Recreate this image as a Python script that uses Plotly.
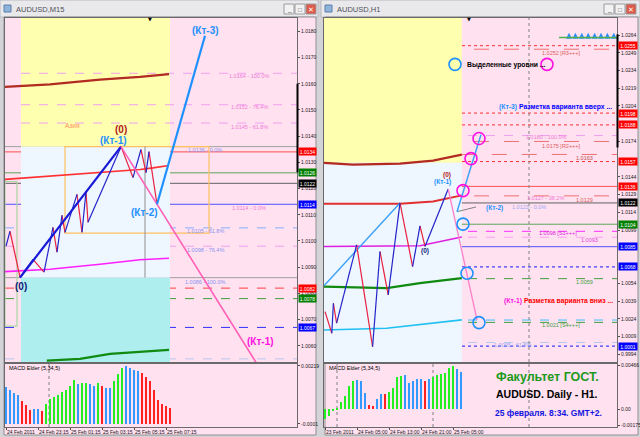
import plotly.graph_objects as go

W, H = 640, 437
FONT = "Liberation Sans, Arial, sans-serif"


def fx(p):
    return p / W


def fy(p):
    return 1 - p / H


# ======================= DATA : left window AUDUSD,M15 =======================
m15_title = "AUDUSD,M15"
m15_price_ticks = [1.0060, 1.0070, 1.0080, 1.0090, 1.0100, 1.0110, 1.0120,
                   1.0130, 1.0140, 1.0150, 1.0160, 1.0170, 1.0180]
m15_time_ticks = [0, 8, 16, 24, 32, 40]
m15_time_labels = ["24 Feb 2011", "24 Feb 23:15", "25 Feb 01:15",
                   "25 Feb 03:15", "25 Feb 05:15", "25 Feb 07:15"]
m15_price_range = [1.00538, 1.01851]
m15_bar_range = [-0.25, 72.75]
m15_zone_start, m15_zone_end = 3.75, 41.0
m15_zone_levels = [1.0136, 1.0086]
m15_day_sep = [10.75]

m15_zz_x = [0, 1, 3.5, 6.75, 9.5, 11.75, 12.75, 14, 14.75, 17.75, 19, 20, 20.5,
            28.75, 31.75, 33.75, 35, 35.75, 37.75]
m15_zz_y = [1.00980, 1.01037, 1.00862, 1.00930, 1.00881, 1.01052, 1.00957, 1.01098,
            1.01033, 1.01178, 1.01033, 1.01189, 1.01071, 1.01360, 1.01242, 1.01349,
            1.01261, 1.01341, 1.01140]
m15_trend_x = [3.5, 28.75]
m15_trend_y = [1.0086, 1.0136]
m15_kt1_x = [28.75, 64.0]
m15_kt1_y = [1.0136, 1.0050]
m15_kt3_x = [37.75, 49.75]
m15_kt3_y = [1.0114, 1.01783]

m15_ma_slow_x = [-0.25, 11, 23.5, 33.5, 40.75]
m15_ma_slow_y = [1.01588, 1.01598, 1.01616, 1.01626, 1.01637]
m15_ma_red_x = [-0.25, 11, 23.5, 33.5, 36.75, 40.75]
m15_ma_red_y = [1.01235, 1.01247, 1.01260, 1.01273, 1.01279, 1.01288]
m15_ma_mag_x = [-0.25, 11, 23.5, 33.5, 40.75]
m15_ma_mag_y = [1.00883, 1.00892, 1.00911, 1.00928, 1.00934]
m15_ma_grn_x = [10.2, 18.5, 26, 33.5, 40.75]
m15_ma_grn_y = [1.00543, 1.00550, 1.00569, 1.00577, 1.00584]

m15_levels = [1.0136, 1.0134, 1.0126, 1.0122, 1.0114, 1.0105, 1.0098, 1.0086,
              1.0082, 1.0078, 1.0067, 1.0055]
m15_level_kind = ["gray", "red", "green", "bid", "blue", "fib_b", "fib_p", "gray",
                  "red_d", "green_d", "blue_d", "pale_d"]
m15_fib_up = [1.0164, 1.0152, 1.0145]
m15_tags = [1.0134, 1.0126, 1.0122, 1.0114, 1.0082, 1.0078, 1.0067]
m15_tag_kind = ["red", "green", "black", "blue", "red", "green", "blue"]
m15_box = [14.75, 50.75, 1.0103, 1.0136]
m15_range_line = [34.75, 1.0086, 1.0136]
m15_green_box = [-0.25, 2.75, 1.00675, 1.01227]
m15_cur_range = [1.0160, 1.01262]
m15_fib_text_pink = ["1.0164 - 100.0%", "1.0152 - 76.4%", "1.0145 - 61.8%", "1.0114 - 0.0%"]
m15_fib_text_blue = ["1.0136 - 0.0%", "1.0105 - 61.8%", "1.0098 - 76.4%", "1.0086 - 100.0%"]

m15_macd = [0.00134, 0.00123, 0.00113, 0.00104, 0.00082, 0.00065, 0.00045,
            0.00048, 0.00048, 0.00041, 0.00069, 0.00088, 0.00095, 0.00104,
            0.00116, 0.00123, 0.00140, 0.00163, 0.00147, 0.00150, 0.00150,
            0.00146, 0.00140, 0.00151, 0.00139, 0.00133, 0.00133, 0.00159,
            0.00185, 0.00212, 0.00219, 0.00211, 0.00202, 0.00199, 0.00192,
            0.00176, 0.00159, 0.00123, 0.00084, 0.00067, 0.00062, 0.00054]
m15_macd_dir = ("bbbb" + "rrr" + "bb" + "r" + "gggggggg" + "b" + "gg" + "bb" + "g"
                + "r" + "bb" + "ggg" + "bbbb" + "rrrrrrrr")
m15_macd_range = [-0.00022, 0.00226]
m15_macd_ticks = [0.00219, -0.0001]
m15_macd_ticktext = ["0.00219", "-0.0001"]

# ======================= DATA : right window AUDUSD,H1 =======================
h1_title = "AUDUSD,H1"
h1_price_ticks = [0.9994, 1.0009, 1.0024, 1.0039, 1.0054, 1.0099,
                  1.0114, 1.0129, 1.0144, 1.0174, 1.0204, 1.0219,
                  1.0234, 1.0249, 1.0264, 1.0279]
h1_time_ticks = [0, 8, 16, 24, 32]
h1_time_labels = ["23 Feb 2011", "24 Feb 05:00", "24 Feb 13:00",
                  "24 Feb 21:00", "25 Feb 05:00"]
h1_price_range = [0.99875, 1.02784]
h1_bar_range = [-0.25, 73.0]
h1_zone_end = 34.2
h1_zone_level = 1.0156
h1_day_sep = [3, 27, 51]

h1_zz_x = [0, 1.7, 2.1, 2.9, 7.9, 11.9, 13.75, 15.8, 18.75, 21.9, 23.75, 25, 30.8]
h1_zz_y = [1.00301, 1.00118, 1.00372, 1.00203, 1.00866, 1.00004, 1.00809,
           1.00443, 1.01220, 1.00682, 1.01027, 1.00852, 1.01338]
h1_trend_x = [-0.25, 18.75]
h1_trend_y = [1.00519, 1.01220]
h1_kt1_x = [30.8, 38.0]
h1_kt1_y = [1.01338, 1.00231]
h1_kt3_x = [33.0, 39.0]
h1_kt3_y = [1.01146, 1.01798]
h1_kt2_x = [33.0, 37.75]
h1_kt2_y = [1.01146, 1.01186]

h1_ma_slow_x = [-0.25, 7, 18.75, 27, 34.2]
h1_ma_slow_y = [1.01559, 1.01544, 1.01553, 1.01578, 1.01629]
h1_ma_red_x = [-0.25, 18.75, 27, 34.2]
h1_ma_red_y = [1.01214, 1.01214, 1.01233, 1.01284]
h1_ma_mag_x = [-0.25, 23.75, 34.2]
h1_ma_mag_y = [1.00852, 1.00858, 1.00932]
h1_ma_grn_x = [-0.25, 15.4, 23.75, 34.2]
h1_ma_grn_y = [1.00513, 1.00499, 1.00542, 1.00584]
h1_ma_cyan_x = [-0.25, 15.4, 34.2]
h1_ma_cyan_y = [1.00146, 1.00160, 1.00231]

h1_levels = [1.0255, 1.0252, 1.0198, 1.0188, 1.0179, 1.0174, 1.0157, 1.0136,
             1.0128, 1.0122, 1.0104, 1.0098, 1.0093, 1.0085, 1.0068, 1.0058,
             1.0023, 1.0021, 1.0004, 1.0001]
h1_level_kind = ["red_dot", "salmon", "red_dot", "red_dot", "fib_p", "salmon",
                 "red_dot", "red", "salmon", "bid", "green", "mag_d", "pink_d",
                 "blue", "blue_dot", "green_d", "sky_d", "green_d", "pale_d",
                 "blue_dot"]
h1_partial_level = [34.2, 1.0163]
h1_tags = [1.0255, 1.0198, 1.0188, 1.0157, 1.0136, 1.0122, 1.0104, 1.0085, 1.0068, 1.0001]
h1_tag_kind = ["red", "red", "red", "red", "red", "black", "green", "blue", "blue", "blue"]
h1_cur_range = [1.02646, 1.01689]
h1_circle_mag_x = [38.5, 36.5, 34.5, 55.5]
h1_circle_mag_y = [1.01765, 1.01595, 1.01324, 1.02392]
h1_circle_blue_x = [34.5, 35.5, 38.5, 32.5]
h1_circle_blue_y = [1.01041, 1.00626, 1.00208, 1.02392]
h1_signal_line = [58.5, 73.0, 1.0262]
h1_signal_x = [61.0, 62.6, 64.2, 65.8, 67.4, 69.0, 70.6, 72.2]
h1_signal_y = [1.0266] * 8

h1_macd = [-0.00105, -0.0007, -0.0002, 0.00005, 0.00077, 0.0014, 0.00245, 0.0030,
           0.0031, 0.0030, 0.00175, 0.0005, 0.00035, 0.00105, 0.0016, 0.0016,
           0.0018, 0.0023, 0.0035, 0.0036, 0.0037, 0.0028, 0.0030, 0.0032,
           0.0032, 0.0030, 0.0032, 0.0035, 0.0037, 0.0038, 0.0039, 0.0044,
           0.0046, 0.0043, 0.0040]
h1_macd_dir = ("gggggggg" + "bbb" + "rr" + "bb" + "r" + "gggg" + "bbbbb" + "r"
               + "b" + "gggggg" + "bb")
h1_macd_range = [-0.00189, 0.00484]
h1_macd_ticks = [0.00466, 0.0, -0.00175]
h1_macd_ticktext = ["0.00466", "0.00", "-0.00175"]

# ============================== STYLES ======================================
PINK = "#ffe1ef"
YELLOW = "#ffffb0"
LBLUE = "#eef6ff"
CYAN = "#aeeeee"
DIR_COL = {"g": "#22ee22", "b": "#3399ff", "r": "#ff2020"}
TAG_COL = {"red": "#ff0000", "green": "#008000", "black": "#000000", "blue": "#0000ff"}
LEVEL_STYLE = {
    "gray": ("#a0a0a0", "solid", 1),
    "red": ("#ff5050", "solid", 1),
    "green": ("#5aa55a", "solid", 1),
    "bid": ("#606060", "solid", 1),
    "blue": ("#5050ff", "solid", 1),
    "fib_b": ("#80b0ff", "dash", 1),
    "fib_p": ("#f0a0f0", "dash", 1),
    "red_d": ("#ff4040", "dash", 1),
    "green_d": ("#40a040", "dash", 1),
    "blue_d": ("#3030ff", "dash", 1),
    "pale_d": ("#b8c8f0", "dash", 1),
    "red_dot": ("#ff3030", "dot", 1),
    "salmon": ("#f07070", "longdash", 1),
    "mag_d": ("#ff30ff", "dash", 1),
    "pink_d": ("#ff9ef5", "dash", 1),
    "blue_dot": ("#4040ff", "dot", 1.2),
    "sky_d": ("#40c0ff", "dash", 1),
}

fig = go.Figure()

# domains (pixels)
LX = [fx(5), fx(297)]
RX = [fx(324), fx(617)]
MAIN_Y = [fy(362), fy(18)]
MACD_Y = [fy(427), fy(364)]


def line_trace(xs, ys, color, width, xa, ya, dash="solid"):
    fig.add_trace(go.Scatter(x=xs, y=ys, mode="lines", xaxis=xa, yaxis=ya,
                             line=dict(color=color, width=width, dash=dash),
                             hoverinfo="skip", showlegend=False))


def zigzag(xs, ys, xa, ya):
    ux, uy, dx, dy = [], [], [], []
    for i in range(len(xs) - 1):
        sx = [xs[i], xs[i + 1], None]
        sy = [ys[i], ys[i + 1], None]
        if ys[i + 1] > ys[i]:
            ux += sx
            uy += sy
        else:
            dx += sx
            dy += sy
    line_trace(dx, dy, "#e8213f", 1.2, xa, ya)
    line_trace(ux, uy, "#2424c8", 1.2, xa, ya)


def hline(price, kind, xa, ya, x0=None, x1=None):
    col, dash, w = LEVEL_STYLE[kind]
    if x0 is None:
        fig.add_shape(type="line", xref=f"{xa} domain", x0=0, x1=1, yref=ya,
                      y0=price, y1=price, line=dict(color=col, dash=dash, width=w),
                      layer="below")
    else:
        fig.add_shape(type="line", xref=xa, x0=x0, x1=x1, yref=ya,
                      y0=price, y1=price, line=dict(color=col, dash=dash, width=w),
                      layer="below")


def zone(x0, x1, y0, y1, color, xa, ya):
    fig.add_shape(type="rect", xref=xa, yref=ya, x0=x0, x1=x1, y0=y0, y1=y1,
                  fillcolor=color, line=dict(width=0), layer="below")


def txt(x, y, text, size, color, bold=False, anchor="center", font=FONT):
    fig.add_annotation(xref="paper", yref="paper", x=fx(x), y=fy(y),
                       text=f"<b>{text}</b>" if bold else text, showarrow=False,
                       xanchor=anchor, yanchor="middle",
                       font=dict(size=size, color=color, family=font))


# ----------------------------- window chrome --------------------------------
for (a, b) in [(0, 318), (321, 640)]:
    fig.add_shape(type="rect", xref="paper", yref="paper", x0=fx(a), x1=fx(b),
                  y0=fy(17), y1=1, fillcolor="#e9e9ec",
                  line=dict(color="#b8b8c0", width=1), layer="below")
    fig.add_shape(type="rect", xref="paper", yref="paper", x0=fx(a + 4), x1=fx(b - 2),
                  y0=fy(435), y1=fy(17), fillcolor=PINK,
                  line=dict(color="#909090", width=1), layer="below")
for (bx, title) in [(0, m15_title), (321, h1_title)]:
    fig.add_shape(type="rect", xref="paper", yref="paper", x0=fx(bx + 4), x1=fx(bx + 11),
                  y0=fy(12), y1=fy(5), fillcolor="#8fb4dc",
                  line=dict(color="#5a7fa8", width=1), layer="above")
    txt(bx + 14, 9, title, 7.5, "#505058", anchor="left")
for bx in [284, 604]:
    for k, (glyph, fill) in enumerate([("_", "#f2f2f2"), ("□", "#f2f2f2"), ("✕", "#de5a48")]):
        x0 = bx + k * 11
        fig.add_shape(type="rect", xref="paper", yref="paper", x0=fx(x0), x1=fx(x0 + 10),
                      y0=fy(14), y1=fy(4), fillcolor=fill,
                      line=dict(color="#9a9aa0", width=1), layer="above")
        txt(x0 + 5, 9, glyph, 6.5, "#ffffff" if k == 2 else "#606060")

# ------------------------------ left M15 -----------------------------------
zone(m15_zone_start, m15_zone_end, m15_zone_levels[0], m15_price_range[1], YELLOW, "x", "y")
zone(m15_zone_start, m15_zone_end, m15_zone_levels[1], m15_zone_levels[0], LBLUE, "x", "y")
zone(m15_zone_start, m15_zone_end, m15_price_range[0], m15_zone_levels[1], CYAN, "x", "y")
for p in m15_fib_up:
    hline(p, "fib_p", "x", "y", m15_zone_start, m15_bar_range[1])
for p, k in zip(m15_levels, m15_level_kind):
    hline(p, k, "x", "y")
fig.add_shape(type="rect", xref="x", yref="y", x0=m15_box[0], x1=m15_box[1],
              y0=m15_box[2], y1=m15_box[3], line=dict(color="#ffc060", width=1.2), layer="below")
fig.add_shape(type="line", xref="x", yref="y", x0=m15_range_line[0], x1=m15_range_line[0],
              y0=m15_range_line[1], y1=m15_range_line[2], line=dict(color="#909090", width=1),
              layer="below")
fig.add_shape(type="rect", xref="x", yref="y", x0=m15_green_box[0], x1=m15_green_box[1],
              y0=m15_green_box[2], y1=m15_green_box[3], line=dict(color="#a8d8a0", width=1.2),
              layer="below")
for d in m15_day_sep:
    for xa, ya in [("x", "y"), ("x2", "y2")]:
        fig.add_shape(type="line", xref=xa, yref=f"{ya} domain", x0=d, x1=d, y0=0, y1=1,
                      line=dict(color="#808080", width=1, dash="dot"), layer="below")

line_trace(m15_ma_slow_x, m15_ma_slow_y, "#b22a22", 2.2, "x", "y")
line_trace(m15_ma_red_x, m15_ma_red_y, "#ff3030", 1.6, "x", "y")
line_trace(m15_ma_mag_x, m15_ma_mag_y, "#ff20ff", 1.6, "x", "y")
line_trace(m15_ma_grn_x, m15_ma_grn_y, "#108a10", 2.2, "x", "y")
zigzag(m15_zz_x, m15_zz_y, "x", "y")
line_trace(m15_trend_x, m15_trend_y, "#1818d8", 2.2, "x", "y")
line_trace(m15_kt1_x, m15_kt1_y, "#ff60b8", 1.6, "x", "y")
line_trace(m15_kt3_x, m15_kt3_y, "#1e90ff", 2.2, "x", "y")

colors = [DIR_COL[c] for c in m15_macd_dir]
fig.add_trace(go.Bar(x=list(range(len(m15_macd))), y=[v + 0.0001 for v in m15_macd],
                     base=-0.0001, marker=dict(color=colors, line=dict(width=0)),
                     width=0.65, xaxis="x2", yaxis="y2", hoverinfo="skip", showlegend=False))

# ------------------------------ right H1 -----------------------------------
zone(h1_bar_range[0], h1_zone_end, h1_zone_level, h1_price_range[1], YELLOW, "x3", "y3")
zone(h1_bar_range[0], h1_zone_end, h1_price_range[0], h1_zone_level, LBLUE, "x3", "y3")
for p, k in zip(h1_levels, h1_level_kind):
    hline(p, k, "x3", "y3")
hline(h1_partial_level[1], "salmon", "x3", "y3", h1_partial_level[0], h1_bar_range[1])
for d in h1_day_sep:
    for xa, ya in [("x3", "y3"), ("x4", "y4")]:
        fig.add_shape(type="line", xref=xa, yref=f"{ya} domain", x0=d, x1=d, y0=0, y1=1,
                      line=dict(color="#808080", width=1, dash="dot"), layer="below")

line_trace(h1_ma_slow_x, h1_ma_slow_y, "#b22a22", 2.2, "x3", "y3")
line_trace(h1_ma_red_x, h1_ma_red_y, "#e03030", 2.0, "x3", "y3")
line_trace(h1_ma_mag_x, h1_ma_mag_y, "#e020e0", 1.6, "x3", "y3")
line_trace(h1_ma_grn_x, h1_ma_grn_y, "#108a10", 2.2, "x3", "y3")
line_trace(h1_ma_cyan_x, h1_ma_cyan_y, "#20c0f0", 1.6, "x3", "y3")
line_trace(h1_trend_x, h1_trend_y, "#3aa0f8", 1.4, "x3", "y3")
zigzag(h1_zz_x, h1_zz_y, "x3", "y3")
line_trace(h1_kt1_x, h1_kt1_y, "#ff80c8", 1.3, "x3", "y3")
line_trace(h1_kt2_x, h1_kt2_y, "#808080", 1.0, "x3", "y3")
line_trace(h1_kt3_x, h1_kt3_y, "#3aa0f8", 1.5, "x3", "y3")
fig.add_shape(type="line", xref="x3", yref="y3", x0=h1_signal_line[0], x1=h1_signal_line[1],
              y0=h1_signal_line[2], y1=h1_signal_line[2], line=dict(color="#50b050", width=1.5))
fig.add_trace(go.Scatter(x=h1_signal_x, y=h1_signal_y, mode="markers",
                         marker=dict(symbol="arrow-up", size=6, color="#2a8cff",
                                     line=dict(width=0)),
                         xaxis="x3", yaxis="y3", hoverinfo="skip", showlegend=False))
fig.add_trace(go.Scatter(x=h1_circle_mag_x, y=h1_circle_mag_y, mode="markers",
                         marker=dict(symbol="circle-open", size=12, color="#ff10e0",
                                     line=dict(width=1.6, color="#ff10e0")),
                         xaxis="x3", yaxis="y3", hoverinfo="skip", showlegend=False))
fig.add_trace(go.Scatter(x=h1_circle_blue_x, y=h1_circle_blue_y, mode="markers",
                         marker=dict(symbol="circle-open", size=12, color="#2090ff",
                                     line=dict(width=1.6, color="#2090ff")),
                         xaxis="x3", yaxis="y3", hoverinfo="skip", showlegend=False))

colors = [DIR_COL[c] for c in h1_macd_dir]
fig.add_trace(go.Bar(x=list(range(len(h1_macd))), y=h1_macd,
                     marker=dict(color=colors, line=dict(width=0)),
                     width=0.65, xaxis="x4", yaxis="y4", hoverinfo="skip", showlegend=False))

# ------------------------------ price tags ----------------------------------
for p, k in zip(m15_tags, m15_tag_kind):
    fig.add_annotation(xref="paper", yref="y", x=fx(298), y=p, text=f"{p:.4f}",
                       showarrow=False, xanchor="left", yanchor="middle", width=17,
                       height=7, bgcolor=TAG_COL[k], borderpad=0,
                       font=dict(size=5, color="#ffffff", family=FONT))
for p, k in zip(h1_tags, h1_tag_kind):
    fig.add_annotation(xref="paper", yref="y3", x=fx(618), y=p, text=f"{p:.4f}",
                       showarrow=False, xanchor="left", yanchor="middle", width=18,
                       height=7, bgcolor=TAG_COL[k], borderpad=0,
                       font=dict(size=5, color="#ffffff", family=FONT))
fig.add_shape(type="line", xref="paper", yref="y", x0=fx(297.5), x1=fx(297.5),
              y0=m15_cur_range[0], y1=m15_cur_range[1], line=dict(color="#000000", width=2))
fig.add_shape(type="line", xref="paper", yref="y3", x0=fx(617.5), x1=fx(617.5),
              y0=h1_cur_range[0], y1=h1_cur_range[1], line=dict(color="#000000", width=2))

# ------------------------------ chart texts ---------------------------------
for t, py in zip(m15_fib_text_pink, [76, 107, 127, 208]):
    txt(249, py, t, 5.5, "#f07ad8")
for t, py in zip(m15_fib_text_blue, [150, 231, 250, 282]):
    txt(205, py, t, 5.5, "#8a94f0")
txt(72, 125, "Азия", 6.5, "#ff9060")
txt(205, 31, "(Кт-3)", 10, "#1e90ff", bold=True)
txt(113, 141, "(Кт-1)", 10, "#1e90ff", bold=True)
txt(121, 130, "(0)", 10, "#b02020", bold=True)
txt(144, 212, "(Кт-2)", 10, "#1e90ff", bold=True)
txt(21, 286, "(0)", 10, "#10207a", bold=True)
txt(260, 341, "(Кт-1)", 10, "#ff10e0", bold=True)
txt(150, 19, "▼", 5, "#000000", font="DejaVu Sans")
txt(469, 19, "▼", 5, "#000000", font="DejaVu Sans")

right_texts = [
    (561, 53, "1.0252 [R3+++]", "#e06060"),
    (546, 137, "1.0180 - 100.0%", "#f07ad8"),
    (561, 146, "1.0175 [R2+++]", "#e06060"),
    (584, 158, "1.0163", "#c05050"),
    (545, 198, "1.0127 - 38.2%", "#f07ad8"),
    (584, 200, "1.0129", "#e06060"),
    (529, 207, "1.0123 - 0.0%", "#98a8f0"),
    (558, 233, "1.0098 [S1+++]", "#e020e0"),
    (589, 240, "1.0093", "#e040e0"),
    (584, 282, "1.0059", "#40a040"),
    (561, 325, "1.0021 [S4+++]", "#40a040"),
    (512, 345, "1.0005 - 61.8%", "#98a8f0"),
]
for x, y, t, c in right_texts:
    txt(x, y, t, 5.5, c)
txt(447, 175, "(0)", 6.5, "#b02020", bold=True)
txt(442, 182, "(Кт-1)", 6.5, "#1e90ff", bold=True)
txt(425, 251, "(0)", 6.5, "#10207a", bold=True)
txt(494, 208, "(Кт-2)", 6.5, "#1e90ff", bold=True)
txt(465, 65, "Выделенные уровни ...", 6.8, "#000000", bold=True, anchor="left")
txt(497, 107, "<span style='color:#1e90ff'>(Кт-3)</span> Разметка варианта вверх ...",
    6.8, "#0000ff", bold=True, anchor="left")
txt(502, 301, "<span style='color:#ff10e0'>(Кт-1)</span> Разметка варианта вниз ...",
    6.8, "#ff0000", bold=True, anchor="left")

txt(7, 368, "MACD Elder (5,34,5)", 5.5, "#000000", anchor="left")
txt(327, 368, "MACD Elder (5,34,5)", 5.5, "#000000", anchor="left")
txt(547, 377, "Факультет ГОСТ.", 12.5, "#1c9a1c", bold=True)
txt(547, 394, "AUDUSD. Daily - H1.", 10.5, "#000000", bold=True)
txt(548, 413, "25 февраля. 8:34. GMT+2.", 8.5, "#1414e0", bold=True)


# --------------------------------- axes -------------------------------------
def xax(domain, rng, anchor, tv=None, tt=None):
    d = dict(domain=domain, range=rng, anchor=anchor, showgrid=False, zeroline=False,
             showline=True, linecolor="#6a6a6a", linewidth=1, mirror=True, fixedrange=True,
             automargin=False)
    if tv is None:
        d.update(showticklabels=False, ticks="")
    else:
        d.update(tickmode="array", tickvals=tv, ticktext=tt, ticks="outside", ticklen=2,
                 tickcolor="#505050", ticklabelposition="outside right", tickangle=0,
                 tickfont=dict(size=5, family=FONT, color="#202020"))
    return d


def yax(domain, rng, anchor, tv, tt=None):
    d = dict(domain=domain, range=rng, anchor=anchor, side="right", showgrid=False,
             zeroline=False, showline=True, linecolor="#6a6a6a", linewidth=1, mirror=True,
             fixedrange=True, automargin=False, tickmode="array", tickvals=tv, ticks="outside",
             ticklen=2, tickcolor="#505050",
             tickfont=dict(size=5, family=FONT, color="#202020"))
    d["ticktext"] = tt if tt is not None else [f"{v:.4f}" for v in tv]
    return d


fig.update_layout(
    width=W, height=H, margin=dict(l=0, r=0, t=0, b=0, autoexpand=False),
    paper_bgcolor="#d4d4d8", plot_bgcolor=PINK, showlegend=False, bargap=0,
    xaxis=xax(LX, m15_bar_range, "y"),
    yaxis=yax(MAIN_Y, m15_price_range, "x", m15_price_ticks),
    xaxis2=xax(LX, m15_bar_range, "y2", m15_time_ticks, m15_time_labels),
    yaxis2=yax(MACD_Y, m15_macd_range, "x2", m15_macd_ticks, m15_macd_ticktext),
    xaxis3=xax(RX, h1_bar_range, "y3"),
    yaxis3=yax(MAIN_Y, h1_price_range, "x3", h1_price_ticks),
    xaxis4=xax(RX, h1_bar_range, "y4", h1_time_ticks, h1_time_labels),
    yaxis4=yax(MACD_Y, h1_macd_range, "x4", h1_macd_ticks, h1_macd_ticktext),
)

fig.write_html("out.html", config={"displayModeBar": False},
               post_script="document.body.style.margin='0';document.body.style.overflow='hidden';")
